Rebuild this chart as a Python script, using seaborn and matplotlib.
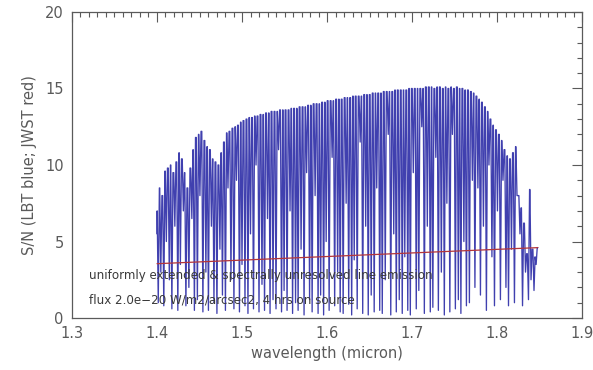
import numpy as np
import pandas as pd
import matplotlib
matplotlib.use("Agg")
import matplotlib.pyplot as plt
from matplotlib.ticker import MultipleLocator
import seaborn as sns

# LBT: telluric absorption lines across H band (micron), the S/N floor in
# each line, and the continuum S/N just blueward of it
line_center = [
    1.4015, 1.4045, 1.4080, 1.4110, 1.4145, 1.4175, 1.4210, 1.4245, 1.4275, 1.4310,
    1.4340, 1.4375, 1.4410, 1.4440, 1.4475, 1.4505, 1.4540, 1.4575, 1.4605, 1.4640,
    1.4670, 1.4705, 1.4740, 1.4770, 1.4805, 1.4835, 1.4870, 1.4905, 1.4935, 1.4970,
    1.5000, 1.5035, 1.5070, 1.5100, 1.5135, 1.5165, 1.5200, 1.5235, 1.5265, 1.5300,
    1.5330, 1.5365, 1.5400, 1.5430, 1.5465, 1.5495, 1.5530, 1.5565, 1.5595, 1.5630,
    1.5660, 1.5695, 1.5730, 1.5760, 1.5795, 1.5825, 1.5860, 1.5895, 1.5925, 1.5960,
    1.5990, 1.6025, 1.6060, 1.6090, 1.6125, 1.6155, 1.6190, 1.6225, 1.6255, 1.6290,
    1.6320, 1.6355, 1.6390, 1.6420, 1.6455, 1.6485, 1.6520, 1.6555, 1.6585, 1.6620,
    1.6650, 1.6685, 1.6720, 1.6750, 1.6785, 1.6815, 1.6850, 1.6885, 1.6915, 1.6950,
    1.6980, 1.7015, 1.7050, 1.7080, 1.7115, 1.7145, 1.7180, 1.7215, 1.7245, 1.7280,
    1.7310, 1.7345, 1.7380, 1.7410, 1.7445, 1.7475, 1.7510, 1.7545, 1.7575, 1.7610,
    1.7640, 1.7675, 1.7710, 1.7740, 1.7775, 1.7805, 1.7840, 1.7875, 1.7905, 1.7940,
    1.7970, 1.8005, 1.8040, 1.8070, 1.8105, 1.8135, 1.8170, 1.8205, 1.8235, 1.8270,
    1.8300, 1.8335, 1.8370, 1.8400, 1.8435, 1.8460,
]
line_floor = [
    1.0, 3.0, 0.8, 5.0, 2.5, 0.6, 6.0, 0.5, 3.5, 7.0,
    0.8, 2.0, 6.5, 0.5, 1.2, 8.0, 0.4, 3.0, 0.5, 6.0,
    1.0, 0.3, 4.5, 1.5, 0.5, 8.5, 2.5, 0.6, 9.0, 0.4,
    3.5, 0.8, 0.3, 5.5, 0.6, 10.0, 0.4, 2.2, 0.5, 6.5,
    0.3, 1.2, 0.6, 11.0, 0.4, 1.8, 0.5, 7.0, 0.3, 1.0,
    0.5, 4.5, 0.2, 9.5, 1.2, 0.4, 8.0, 0.3, 1.5, 0.2,
    5.0, 0.5, 10.5, 0.8, 3.0, 0.4, 0.3, 7.5, 0.9, 0.2,
    3.8, 0.6, 11.5, 0.3, 6.0, 0.2, 1.5, 0.4, 8.5, 0.5,
    0.3, 2.5, 12.0, 0.2, 5.5, 0.4, 1.2, 0.3, 4.0, 0.5,
    0.2, 9.5, 0.6, 1.8, 12.5, 0.3, 6.0, 0.4, 0.7, 10.5,
    0.5, 3.0, 0.2, 7.5, 0.4, 12.0, 0.6, 1.2, 0.3, 5.0,
    0.8, 1.0, 9.0, 2.0, 8.5, 1.5, 6.0, 0.5, 10.0, 4.0,
    0.8, 7.0, 1.2, 9.0, 2.0, 0.8, 4.5, 1.0, 8.0, 5.5,
    0.8, 3.0, 1.2, 2.5, 1.8, 3.5,
]
continuum_snr = [
    7.0, 8.5, 8.0, 9.6, 9.8, 10.0, 9.5, 10.2, 10.8, 10.4,
    9.5, 8.5, 9.8, 11.0, 11.8, 12.0, 12.2, 11.6, 11.2, 11.0,
    10.4, 10.2, 10.0, 10.8, 11.5, 12.1, 12.2, 12.4, 12.5, 12.6,
    12.8, 12.9, 13.0, 13.1, 13.1, 13.2, 13.2, 13.3, 13.3, 13.4,
    13.4, 13.5, 13.5, 13.5, 13.6, 13.6, 13.6, 13.6, 13.7, 13.7,
    13.7, 13.8, 13.8, 13.8, 13.9, 13.9, 14.0, 14.0, 14.0, 14.1,
    14.1, 14.2, 14.2, 14.2, 14.3, 14.3, 14.3, 14.4, 14.4, 14.4,
    14.5, 14.5, 14.5, 14.5, 14.6, 14.6, 14.6, 14.7, 14.7, 14.7,
    14.7, 14.8, 14.8, 14.8, 14.8, 14.9, 14.9, 14.9, 14.9, 14.9,
    15.0, 15.0, 15.0, 15.0, 15.0, 15.0, 15.1, 15.1, 15.1, 15.0,
    15.1, 15.1, 15.0, 15.1, 15.0, 15.1, 15.0, 15.1, 15.0, 15.0,
    14.9, 14.9, 14.8, 14.7, 14.5, 14.3, 14.1, 13.8, 13.5, 13.0,
    12.6, 12.3, 12.0, 11.6, 11.0, 10.6, 10.4, 10.8, 11.2, 8.0,
    7.2, 6.2, 4.2, 8.4, 4.5, 4.0,
]
spectrum_start = (1.4000, 5.5)
spectrum_end = (1.8480, 4.6)

# JWST prediction for the same line flux
jwst_wavelength = [1.40, 1.848]
jwst_snr = [3.55, 4.6]

x_ticks = [1.3, 1.4, 1.5, 1.6, 1.7, 1.8, 1.9]
y_ticks = [0, 5, 10, 15, 20]

# Each absorption line is drawn as a narrow V between continuum levels
half_width = 0.0013
wl_pts = [spectrum_start[0]]
snr_pts = [spectrum_start[1]]
for i, (c, f) in enumerate(zip(line_center, line_floor)):
    nxt = continuum_snr[i + 1] if i + 1 < len(continuum_snr) else spectrum_end[1]
    wl_pts += [c - half_width, c, c + half_width]
    snr_pts += [continuum_snr[i], f, nxt]
wl_pts.append(spectrum_end[0])
snr_pts.append(spectrum_end[1])

lbt = pd.DataFrame({"wavelength": wl_pts, "snr": snr_pts})
jwst = pd.DataFrame({"wavelength": jwst_wavelength, "snr": jwst_snr})

sns.set_style("white")
plt.rcParams["font.family"] = ["DejaVu Sans"]

grey = "#5a5a5a"
fig = plt.figure(figsize=(5.93, 3.70), dpi=100)
ax = fig.add_axes([0.1214, 0.1405, 0.8601, 0.8271])

sns.lineplot(data=lbt, x="wavelength", y="snr", ax=ax, color="#3030a8",
             linewidth=0.95, alpha=0.92, sort=False, estimator=None, zorder=2)
sns.lineplot(data=jwst, x="wavelength", y="snr", ax=ax, color="#b3353a",
             linewidth=0.9, sort=False, estimator=None, zorder=3)

ax.set_xlim(1.3, 1.9)
ax.set_ylim(0, 20)
ax.set_xticks(x_ticks)
ax.set_xticklabels([f"{t:.1f}" for t in x_ticks])
ax.set_yticks(y_ticks)
ax.xaxis.set_minor_locator(MultipleLocator(0.01))
ax.yaxis.set_minor_locator(MultipleLocator(1))
ax.tick_params(which="both", direction="in", top=True, right=True,
               color=grey, labelcolor=grey, labelsize=10.5, width=0.8)
ax.tick_params(which="major", length=7, pad=6)
ax.tick_params(which="minor", length=3.5)
for side in ax.spines.values():
    side.set_color(grey)
    side.set_linewidth(0.9)

ax.set_xlabel("wavelength (micron)", color=grey, fontsize=10.5, labelpad=3)
ax.set_ylabel("S/N (LBT blue; JWST red)", color=grey, fontsize=10.5, labelpad=6)

ax.text(1.3205, 2.75, "uniformly extended & spectrally unresolved line emission",
        color="#3a3a3a", fontsize=8.6, va="center", ha="left", zorder=5)
ax.text(1.3205, 1.2, "flux 2.0e\u221220 W/m2/arcsec2, 4 hrs on source",
        color="#3a3a3a", fontsize=8.6, va="center", ha="left", zorder=5)

fig.savefig("out.png", dpi=100)
